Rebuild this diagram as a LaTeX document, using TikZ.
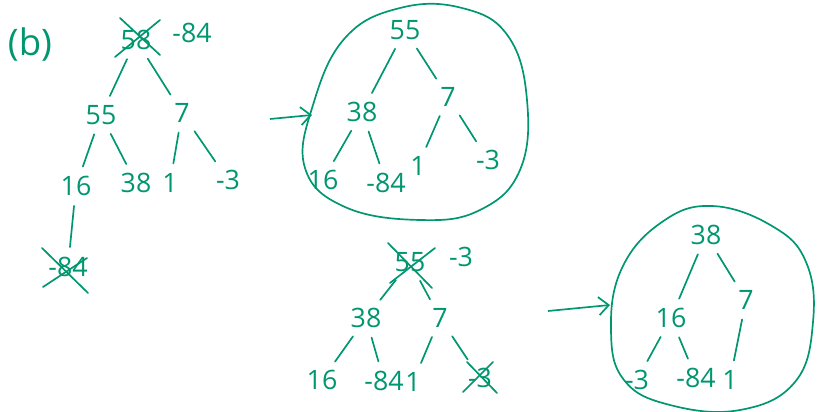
\documentclass[tikz,border=0pt]{standalone}
\usepackage{fontspec}
\setmainfont{Open Sans}
\usetikzlibrary{arrows.meta,positioning}
\usepackage{xcolor}
\definecolor{hpgreen}{RGB}{0,150,112}
\tikzset{
    val/.style={
        inner sep=1pt,text=hpgreen,font=\fontsize{19}{20}\selectfont
    },
    edge/.style={
        hpgreen,line width=1.2pt,shorten <=6pt,shorten >=6pt,line cap=round
    },
    strike/.style={
        hpgreen,line width=1.2pt,line cap=round
    },
    blob/.style={
        hpgreen,line width=1.2pt
    },
    arrow/.style={
        -{Straight Barb[length=2.5mm,width=4.5mm]},hpgreen,line width=1.2pt
    }
}
\begin{document}
\begin{tikzpicture}[x=0.025cm,y=-0.025cm]
\useasboundingbox (0,0) rectangle (817,412);

\node[val,font=\fontsize{26}{28}\selectfont] (label) at (30,45) {(b)};

% first heap, root removed
\node[val] (a58) at (136,40) {58};
\node[val] (anew) at (192,33) {-84};
\node[val] (a55) at (101,115) {55};
\node[val] (a7) at (182,113) {7};
\node[val] (a16) at (76,186) {16};
\node[val] (a38) at (136,183) {38};
\node[val] (a1) at (170,183) {1};
\node[val] (am3) at (228,180) {-3};
\node[val] (am84) at (68,267) {-84};

\draw[edge] (a58)--(a55);
\draw[edge] (a58)--(a7);
\draw[edge] (a55)--(a16);
\draw[edge] (a55)--(a38);
\draw[edge] (a7)--(a1);
\draw[edge] (a7)--(am3);
\draw[edge] (a16)--(am84);

\draw[strike] ([shift={(-16,-22)}]a58.center)--([shift={(24,15)}]a58.center);
\draw[strike] ([shift={(-21,17)}]a58.center)--([shift={(24,-20)}]a58.center);
\draw[strike] ([shift={(-26,-19)}]am84.center)--([shift={(20,26)}]am84.center);
\draw[strike] ([shift={(-25,20)}]am84.center)--([shift={(19,-9)}]am84.center);

% first result
\coordinate (p1) at (270,119);
\coordinate (q1) at (312,115);
\draw[arrow] (p1)--(q1);

\draw[blob] plot[smooth cycle,tension=0.7] coordinates {
(345,38) (400,8) (462,8) (508,36) (527,100) (520,170)
(480,210) (420,220) (345,207) (305,168) (313,105)};

\node[val] (b55) at (405,30) {55};
\node[val] (b38) at (362,112) {38};
\node[val] (b7) at (448,97) {7};
\node[val] (b16) at (323,180) {16};
\node[val] (bm84) at (386,183) {-84};
\node[val] (b1) at (418,166) {1};
\node[val] (bm3) at (488,160) {-3};

\draw[edge] (b55)--(b38);
\draw[edge] (b55)--(b7);
\draw[edge] (b38)--(b16);
\draw[edge] (b38)--(bm84);
\draw[edge] (b7)--(b1);
\draw[edge] (b7)--(bm3);

% second heap, root removed
\node[val] (c55) at (410,262) {55};
\node[val] (cnew) at (461,257) {-3};
\node[val] (c38) at (366,318) {38};
\node[val] (c7) at (440,318) {7};
\node[val] (c16) at (322,380) {16};
\node[val] (cm84) at (384,381) {-84};
\node[val] (c1) at (413,382) {1};
\node[val] (cm3) at (480,378) {-3};

\draw[edge] (c55)--(c38);
\draw[edge] (c55)--(c7);
\draw[edge] (c38)--(c16);
\draw[edge] (c38)--(cm84);
\draw[edge] (c7)--(c1);
\draw[edge] (c7)--(cm3);

\draw[strike] ([shift={(-22,-19)}]c55.center)--([shift={(22,26)}]c55.center);
\draw[strike] ([shift={(-20,21)}]c55.center)--([shift={(25,-14)}]c55.center);
\draw[strike] ([shift={(-13,-16)}]cm3.center)--([shift={(17,15)}]cm3.center);
\draw[strike] ([shift={(-17,14)}]cm3.center)--([shift={(13,-16)}]cm3.center);

% second result
\coordinate (p2) at (548,311);
\coordinate (q2) at (610,305);
\draw[arrow] (p2)--(q2);

\draw[blob] plot[smooth cycle,tension=0.7] coordinates {
(622,268) (662,222) (712,206) (772,226) (806,262) (813,322)
(795,382) (740,410) (670,405) (624,380) (611,330)};

\node[val] (d38) at (706,235) {38};
\node[val] (d16) at (671,318) {16};
\node[val] (d7) at (746,300) {7};
\node[val] (dm3) at (637,380) {-3};
\node[val] (dm84) at (696,378) {-84};
\node[val] (d1) at (730,380) {1};

\draw[edge] (d38)--(d16);
\draw[edge] (d38)--(d7);
\draw[edge] (d16)--(dm3);
\draw[edge] (d16)--(dm84);
\draw[edge] (d7)--(d1);

\end{tikzpicture}
\end{document}
